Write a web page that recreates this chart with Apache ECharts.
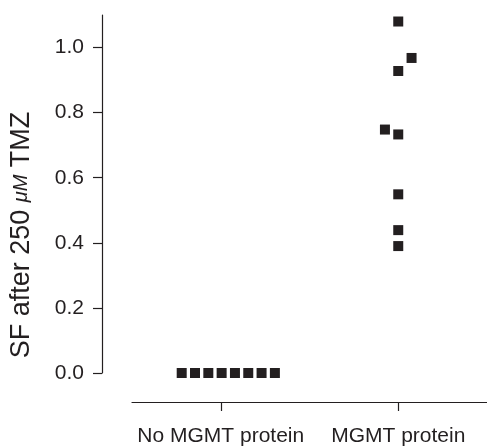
<!DOCTYPE html>
<html>
<head>
<meta charset="utf-8">
<script src="https://cdn.jsdelivr.net/npm/echarts@6/dist/echarts.min.js"></script>
<style>
html,body{margin:0;padding:0;background:#fff;}
#chart{width:487px;height:447px;}
</style>
</head>
<body>
<div id="chart"></div>
<script>
// Categories
const categories = ['No MGMT protein', 'MGMT protein'];
// Surviving fraction values per group
const noMgmtValues = [0, 0, 0, 0, 0, 0, 0, 0];
const mgmtValues = [1.08, 0.968, 0.928, 0.748, 0.733, 0.549, 0.439, 0.390];
// Horizontal jitter (in category units) applied to each point
const noMgmtJitter = [-0.22, -0.145, -0.07, 0.005, 0.08, 0.155, 0.23, 0.305];
const mgmtJitter = [0, 0.075, 0, -0.075, 0, 0, 0, 0];
// Y tick labels
const yTicks = [0, 0.2, 0.4, 0.6, 0.8, 1.0];

const catPos = [1, 2];
const noMgmtData = noMgmtValues.map((v, i) => [catPos[0] + noMgmtJitter[i], v]);
const mgmtData = mgmtValues.map((v, i) => [catPos[1] + mgmtJitter[i], v]);

const ink = '#231f20';
const font = 'Liberation Sans, Arial, sans-serif';
const chart = echarts.init(document.getElementById('chart'), null, {renderer: 'canvas'});
chart.setOption({
  animation: false,
  backgroundColor: '#ffffff',
  grid: {left: 130, right: 0, top: 15, bottom: 73, containLabel: false},
  xAxis: {
    type: 'value',
    min: 0.5, max: 2.5,
    offset: 29,
    splitLine: {show: false},
    axisLine: {show: true, onZero: false, lineStyle: {color: ink, width: 1.2}},
    axisTick: {show: true, inside: false, length: 9, customValues: catPos, lineStyle: {color: ink, width: 1.2}},
    axisLabel: {
      customValues: catPos,
      margin: 24,
      fontFamily: font,
      fontSize: 21,
      color: ink,
      formatter: v => categories[Math.round(v) - 1]
    }
  },
  yAxis: {
    type: 'value',
    min: 0, max: 1.1,
    offset: 30,
    splitLine: {show: false},
    axisLine: {show: true, onZero: false, lineStyle: {color: ink, width: 1.2}},
    axisTick: {show: true, length: 9, customValues: yTicks, lineStyle: {color: ink, width: 1.2}},
    axisLabel: {
      customValues: yTicks,
      margin: 18,
      fontFamily: font,
      fontSize: 21,
      color: ink,
      formatter: v => v.toFixed(1)
    },
    name: 'SF after 250 {mu|μM} TMZ',
    nameLocation: 'middle',
    nameGap: 67,
    nameTextStyle: {
      fontFamily: font,
      fontSize: 27,
      color: ink,
      padding: [0, 82, 0, 0],
      rich: {
        mu: {fontFamily: font, fontSize: 20, fontStyle: 'italic', color: ink}
      }
    }
  },
  series: [
    {
      name: categories[0],
      type: 'scatter',
      symbol: 'rect',
      symbolSize: 10,
      itemStyle: {color: ink, opacity: 1},
      data: noMgmtData
    },
    {
      name: categories[1],
      type: 'scatter',
      symbol: 'rect',
      symbolSize: 10,
      itemStyle: {color: ink, opacity: 1},
      data: mgmtData
    }
  ]
});
</script>
</body>
</html>
